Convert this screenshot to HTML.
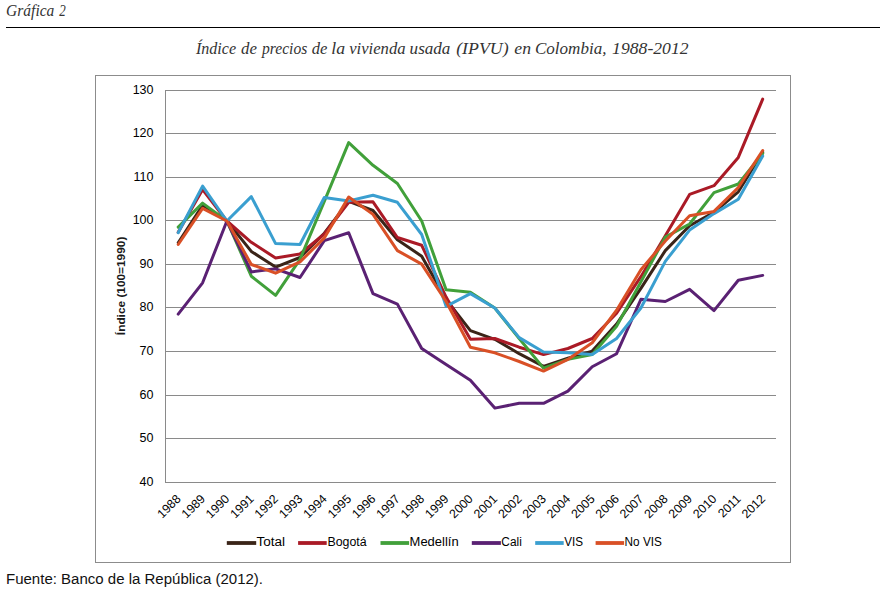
<!DOCTYPE html><html><head><meta charset="utf-8"><title>Gráfica 2</title><style>html,body{margin:0;padding:0;background:#fff;width:882px;height:590px;overflow:hidden}svg{display:block}</style></head><body>
<svg width="882" height="590" viewBox="0 0 882 590">
<rect x="0" y="0" width="882" height="590" fill="#fff"/>
<g font-style="italic" fill="#333">
<text x="6.08" y="15.5" font-family="Liberation Serif, serif" font-size="17"  textLength="48.25" lengthAdjust="spacingAndGlyphs">Gráfica</text>
<text x="59.30" y="15.5" font-family="Liberation Serif, serif" font-size="17"  textLength="6.51" lengthAdjust="spacingAndGlyphs">2</text>
<line x1="6" y1="27.5" x2="880" y2="27.5" stroke="#000" stroke-width="1.15"/>
<text x="195.89" y="53.6" font-family="Liberation Serif, serif" font-size="17"  textLength="40.16" lengthAdjust="spacingAndGlyphs">Índice</text>
<text x="241.11" y="53.6" font-family="Liberation Serif, serif" font-size="17"  textLength="15.84" lengthAdjust="spacingAndGlyphs">de</text>
<text x="262.02" y="53.6" font-family="Liberation Serif, serif" font-size="17"  textLength="45.26" lengthAdjust="spacingAndGlyphs">precios</text>
<text x="311.71" y="53.6" font-family="Liberation Serif, serif" font-size="17"  textLength="15.62" lengthAdjust="spacingAndGlyphs">de</text>
<text x="331.26" y="53.6" font-family="Liberation Serif, serif" font-size="17"  textLength="13.79" lengthAdjust="spacingAndGlyphs">la</text>
<text x="349.20" y="53.6" font-family="Liberation Serif, serif" font-size="17"  textLength="56.36" lengthAdjust="spacingAndGlyphs">vivienda</text>
<text x="409.60" y="53.6" font-family="Liberation Serif, serif" font-size="17"  textLength="40.82" lengthAdjust="spacingAndGlyphs">usada</text>
<text x="456.17" y="53.6" font-family="Liberation Serif, serif" font-size="17"  textLength="52.49" lengthAdjust="spacingAndGlyphs">(IPVU)</text>
<text x="514.38" y="53.6" font-family="Liberation Serif, serif" font-size="17"  textLength="16.70" lengthAdjust="spacingAndGlyphs">en</text>
<text x="535.00" y="53.6" font-family="Liberation Serif, serif" font-size="17"  textLength="71.42" lengthAdjust="spacingAndGlyphs">Colombia,</text>
<text x="612.08" y="53.6" font-family="Liberation Serif, serif" font-size="17"  textLength="76.50" lengthAdjust="spacingAndGlyphs">1988-2012</text>
</g>
<rect x="95.5" y="75.5" width="695" height="487" fill="none" stroke="#8c8c8c" stroke-width="1"/>
<line x1="165" y1="482.5" x2="776" y2="482.5" stroke="#8a8a8a" stroke-width="1"/>
<text x="153.5" y="486.1" text-anchor="end" font-family="Liberation Sans, sans-serif" font-size="12.5" fill="#000">40</text>
<line x1="165" y1="438.5" x2="776" y2="438.5" stroke="#8a8a8a" stroke-width="1"/>
<text x="153.5" y="442.1" text-anchor="end" font-family="Liberation Sans, sans-serif" font-size="12.5" fill="#000">50</text>
<line x1="165" y1="395.5" x2="776" y2="395.5" stroke="#8a8a8a" stroke-width="1"/>
<text x="153.5" y="399.1" text-anchor="end" font-family="Liberation Sans, sans-serif" font-size="12.5" fill="#000">60</text>
<line x1="165" y1="351.5" x2="776" y2="351.5" stroke="#8a8a8a" stroke-width="1"/>
<text x="153.5" y="355.1" text-anchor="end" font-family="Liberation Sans, sans-serif" font-size="12.5" fill="#000">70</text>
<line x1="165" y1="307.5" x2="776" y2="307.5" stroke="#8a8a8a" stroke-width="1"/>
<text x="153.5" y="311.1" text-anchor="end" font-family="Liberation Sans, sans-serif" font-size="12.5" fill="#000">80</text>
<line x1="165" y1="264.5" x2="776" y2="264.5" stroke="#8a8a8a" stroke-width="1"/>
<text x="153.5" y="268.1" text-anchor="end" font-family="Liberation Sans, sans-serif" font-size="12.5" fill="#000">90</text>
<line x1="165" y1="220.5" x2="776" y2="220.5" stroke="#8a8a8a" stroke-width="1"/>
<text x="153.5" y="224.1" text-anchor="end" font-family="Liberation Sans, sans-serif" font-size="12.5" fill="#000">100</text>
<line x1="165" y1="177.5" x2="776" y2="177.5" stroke="#8a8a8a" stroke-width="1"/>
<text x="153.5" y="181.1" text-anchor="end" font-family="Liberation Sans, sans-serif" font-size="12.5" fill="#000">110</text>
<line x1="165" y1="133.5" x2="776" y2="133.5" stroke="#8a8a8a" stroke-width="1"/>
<text x="153.5" y="137.1" text-anchor="end" font-family="Liberation Sans, sans-serif" font-size="12.5" fill="#000">120</text>
<line x1="165" y1="90.5" x2="776" y2="90.5" stroke="#8a8a8a" stroke-width="1"/>
<text x="153.5" y="94.1" text-anchor="end" font-family="Liberation Sans, sans-serif" font-size="12.5" fill="#000">130</text>
<line x1="165.5" y1="90" x2="165.5" y2="483" stroke="#8a8a8a" stroke-width="1"/>
<text transform="translate(124.6,285.9) rotate(-90)" text-anchor="middle" font-family="Liberation Sans, sans-serif" font-weight="bold" font-size="11.6" fill="#1a1a1a" textLength="98.5" lengthAdjust="spacingAndGlyphs">Índice (100=1990)</text>
<text transform="translate(181.5,499.6) rotate(-45)" text-anchor="end" font-family="Liberation Sans, sans-serif" font-size="12.3" fill="#000">1988</text>
<text transform="translate(205.9,499.6) rotate(-45)" text-anchor="end" font-family="Liberation Sans, sans-serif" font-size="12.3" fill="#000">1989</text>
<text transform="translate(230.2,499.6) rotate(-45)" text-anchor="end" font-family="Liberation Sans, sans-serif" font-size="12.3" fill="#000">1990</text>
<text transform="translate(254.6,499.6) rotate(-45)" text-anchor="end" font-family="Liberation Sans, sans-serif" font-size="12.3" fill="#000">1991</text>
<text transform="translate(278.9,499.6) rotate(-45)" text-anchor="end" font-family="Liberation Sans, sans-serif" font-size="12.3" fill="#000">1992</text>
<text transform="translate(303.3,499.6) rotate(-45)" text-anchor="end" font-family="Liberation Sans, sans-serif" font-size="12.3" fill="#000">1993</text>
<text transform="translate(327.6,499.6) rotate(-45)" text-anchor="end" font-family="Liberation Sans, sans-serif" font-size="12.3" fill="#000">1994</text>
<text transform="translate(352.0,499.6) rotate(-45)" text-anchor="end" font-family="Liberation Sans, sans-serif" font-size="12.3" fill="#000">1995</text>
<text transform="translate(376.3,499.6) rotate(-45)" text-anchor="end" font-family="Liberation Sans, sans-serif" font-size="12.3" fill="#000">1996</text>
<text transform="translate(400.7,499.6) rotate(-45)" text-anchor="end" font-family="Liberation Sans, sans-serif" font-size="12.3" fill="#000">1997</text>
<text transform="translate(425.0,499.6) rotate(-45)" text-anchor="end" font-family="Liberation Sans, sans-serif" font-size="12.3" fill="#000">1998</text>
<text transform="translate(449.4,499.6) rotate(-45)" text-anchor="end" font-family="Liberation Sans, sans-serif" font-size="12.3" fill="#000">1999</text>
<text transform="translate(473.7,499.6) rotate(-45)" text-anchor="end" font-family="Liberation Sans, sans-serif" font-size="12.3" fill="#000">2000</text>
<text transform="translate(498.1,499.6) rotate(-45)" text-anchor="end" font-family="Liberation Sans, sans-serif" font-size="12.3" fill="#000">2001</text>
<text transform="translate(522.5,499.6) rotate(-45)" text-anchor="end" font-family="Liberation Sans, sans-serif" font-size="12.3" fill="#000">2002</text>
<text transform="translate(546.8,499.6) rotate(-45)" text-anchor="end" font-family="Liberation Sans, sans-serif" font-size="12.3" fill="#000">2003</text>
<text transform="translate(571.2,499.6) rotate(-45)" text-anchor="end" font-family="Liberation Sans, sans-serif" font-size="12.3" fill="#000">2004</text>
<text transform="translate(595.5,499.6) rotate(-45)" text-anchor="end" font-family="Liberation Sans, sans-serif" font-size="12.3" fill="#000">2005</text>
<text transform="translate(619.9,499.6) rotate(-45)" text-anchor="end" font-family="Liberation Sans, sans-serif" font-size="12.3" fill="#000">2006</text>
<text transform="translate(644.2,499.6) rotate(-45)" text-anchor="end" font-family="Liberation Sans, sans-serif" font-size="12.3" fill="#000">2007</text>
<text transform="translate(668.6,499.6) rotate(-45)" text-anchor="end" font-family="Liberation Sans, sans-serif" font-size="12.3" fill="#000">2008</text>
<text transform="translate(692.9,499.6) rotate(-45)" text-anchor="end" font-family="Liberation Sans, sans-serif" font-size="12.3" fill="#000">2009</text>
<text transform="translate(717.3,499.6) rotate(-45)" text-anchor="end" font-family="Liberation Sans, sans-serif" font-size="12.3" fill="#000">2010</text>
<text transform="translate(741.6,499.6) rotate(-45)" text-anchor="end" font-family="Liberation Sans, sans-serif" font-size="12.3" fill="#000">2011</text>
<text transform="translate(766.0,499.6) rotate(-45)" text-anchor="end" font-family="Liberation Sans, sans-serif" font-size="12.3" fill="#000">2012</text>
<polyline points="178.2,242.7 202.6,205.3 226.9,221.0 251.3,251.4 275.6,267.1 300.0,257.5 324.3,233.2 348.7,201.4 373.0,210.5 397.4,239.7 421.7,256.2 446.1,299.3 470.4,330.6 494.8,339.3 519.2,353.7 543.5,366.3 567.9,358.1 592.2,351.1 616.6,324.1 640.9,288.4 665.3,250.6 689.6,225.8 714.0,212.3 738.3,191.8 762.7,152.2" fill="none" stroke="#3a2418" stroke-width="3.0" stroke-linejoin="round" stroke-linecap="round"/>
<polyline points="178.2,232.3 202.6,189.6 226.9,221.0 251.3,242.3 275.6,258.0 300.0,254.0 324.3,234.0 348.7,202.3 373.0,201.8 397.4,237.5 421.7,245.3 446.1,297.1 470.4,339.3 494.8,338.5 519.2,347.2 543.5,354.6 567.9,348.5 592.2,338.5 616.6,313.2 640.9,276.7 665.3,235.8 689.6,194.4 714.0,185.7 738.3,157.4 762.7,99.1" fill="none" stroke="#aa1a26" stroke-width="3.0" stroke-linejoin="round" stroke-linecap="round"/>
<polyline points="178.2,227.1 202.6,203.1 226.9,221.0 251.3,276.2 275.6,295.4 300.0,259.3 324.3,201.4 348.7,142.6 373.0,165.3 397.4,183.5 421.7,221.0 446.1,289.7 470.4,292.3 494.8,308.0 519.2,338.5 543.5,368.1 567.9,359.4 592.2,354.6 616.6,326.3 640.9,281.9 665.3,237.1 689.6,224.0 714.0,192.7 738.3,184.0 762.7,153.5" fill="none" stroke="#41a03a" stroke-width="3.0" stroke-linejoin="round" stroke-linecap="round"/>
<polyline points="178.2,314.1 202.6,282.8 226.9,221.0 251.3,271.9 275.6,268.8 300.0,277.5 324.3,240.6 348.7,232.7 373.0,293.6 397.4,304.1 421.7,348.5 446.1,364.6 470.4,380.3 494.8,408.1 519.2,403.3 543.5,403.3 567.9,391.1 592.2,366.8 616.6,353.7 640.9,299.3 665.3,301.5 689.6,289.3 714.0,310.6 738.3,280.2 762.7,275.4" fill="none" stroke="#5a2173" stroke-width="3.0" stroke-linejoin="round" stroke-linecap="round"/>
<polyline points="178.2,232.7 202.6,186.1 226.9,221.0 251.3,196.6 275.6,243.6 300.0,244.5 324.3,197.5 348.7,200.9 373.0,195.3 397.4,202.3 421.7,234.5 446.1,306.3 470.4,293.6 494.8,308.0 519.2,337.6 543.5,352.0 567.9,352.8 592.2,354.6 616.6,338.5 640.9,308.0 665.3,261.4 689.6,230.1 714.0,213.6 738.3,199.2 762.7,156.1" fill="none" stroke="#3a9fd0" stroke-width="3.0" stroke-linejoin="round" stroke-linecap="round"/>
<polyline points="178.2,244.5 202.6,208.3 226.9,221.0 251.3,264.5 275.6,273.2 300.0,261.9 324.3,237.9 348.7,197.0 373.0,214.4 397.4,250.6 421.7,264.1 446.1,301.5 470.4,347.2 494.8,352.8 519.2,361.5 543.5,371.1 567.9,359.4 592.2,342.8 616.6,310.2 640.9,269.7 665.3,241.0 689.6,215.7 714.0,211.4 738.3,187.5 762.7,150.5" fill="none" stroke="#d95026" stroke-width="3.0" stroke-linejoin="round" stroke-linecap="round"/>
<line x1="226.8" y1="543" x2="256.2" y2="543" stroke="#3a2418" stroke-width="3.8"/>
<text x="256.4" y="546.1" font-family="Liberation Sans, sans-serif" font-size="12.5" fill="#000" textLength="28.6" lengthAdjust="spacingAndGlyphs">Total</text>
<line x1="298.1" y1="543" x2="326.7" y2="543" stroke="#aa1a26" stroke-width="3.8"/>
<text x="327.4" y="546.1" font-family="Liberation Sans, sans-serif" font-size="12.5" fill="#000" textLength="39.2" lengthAdjust="spacingAndGlyphs">Bogotá</text>
<line x1="380.5" y1="543" x2="409.1" y2="543" stroke="#41a03a" stroke-width="3.8"/>
<text x="409.6" y="546.1" font-family="Liberation Sans, sans-serif" font-size="12.5" fill="#000" textLength="49.0" lengthAdjust="spacingAndGlyphs">Medellín</text>
<line x1="471.8" y1="543" x2="500.9" y2="543" stroke="#5a2173" stroke-width="3.8"/>
<text x="501.3" y="546.1" font-family="Liberation Sans, sans-serif" font-size="12.5" fill="#000" textLength="20.5" lengthAdjust="spacingAndGlyphs">Cali</text>
<line x1="535.2" y1="543" x2="563.7" y2="543" stroke="#3a9fd0" stroke-width="3.8"/>
<text x="564.2" y="546.1" font-family="Liberation Sans, sans-serif" font-size="12.5" fill="#000" textLength="18.8" lengthAdjust="spacingAndGlyphs">VIS</text>
<line x1="595.6" y1="543" x2="624.1" y2="543" stroke="#d95026" stroke-width="3.8"/>
<text x="624.6" y="546.1" font-family="Liberation Sans, sans-serif" font-size="12.5" fill="#000" textLength="37.3" lengthAdjust="spacingAndGlyphs">No VIS</text>
<text x="6" y="583.9" font-family="Liberation Sans, sans-serif" font-size="14.7" fill="#111" textLength="257" lengthAdjust="spacingAndGlyphs">Fuente: Banco de la República (2012).</text>
</svg></body></html>
